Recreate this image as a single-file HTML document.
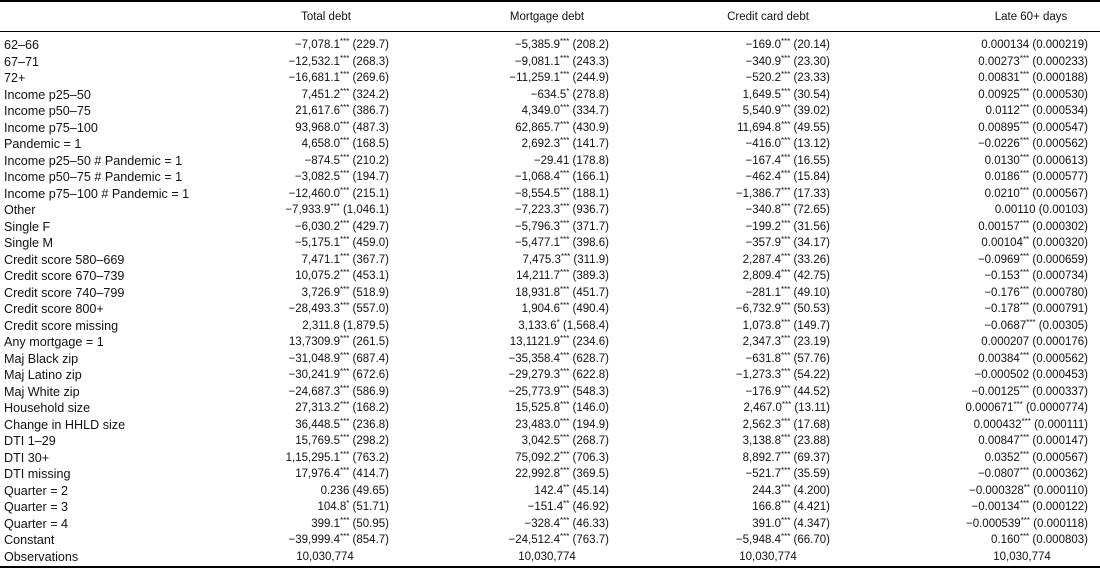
<!DOCTYPE html>
<html><head><meta charset="utf-8"><style>
body{margin:0;background:#fff;width:1100px;height:571px;position:relative;overflow:hidden;font-family:"Liberation Sans",sans-serif;font-size:11.5px;color:#111}
.r{position:absolute;height:16px;line-height:16px;white-space:nowrap}
.hr{position:absolute;left:0;width:1100px;background:#000}
.l{left:4px;font-size:12.6px}
.c1{right:711px}.c2{right:491px}.c3{right:270px}.c4{right:12px}
.m{transform:translateX(-50%)}
sup{font-size:8px;line-height:0;position:relative;top:-4px;vertical-align:baseline}
</style></head><body>
<div class="hr" style="top:0;height:2px"></div>
<div class="hr" style="top:31px;height:1px"></div>
<div class="hr" style="top:566px;height:2px"></div>
<div class="r m" style="top:9px;left:326px">Total debt</div>
<div class="r m" style="top:9px;left:547px">Mortgage debt</div>
<div class="r m" style="top:9px;left:768px">Credit card debt</div>
<div class="r m" style="top:9px;left:1031px">Late 60+ days</div>
<div id="rows"></div>
<script>
const d=[
["62–66","−7,078.1*** (229.7)","−5,385.9*** (208.2)","−169.0*** (20.14)","0.000134 (0.000219)"],
["67–71","−12,532.1*** (268.3)","−9,081.1*** (243.3)","−340.9*** (23.30)","0.00273*** (0.000233)"],
["72+","−16,681.1*** (269.6)","−11,259.1*** (244.9)","−520.2*** (23.33)","0.00831*** (0.000188)"],
["Income p25–50","7,451.2*** (324.2)","−634.5* (278.8)","1,649.5*** (30.54)","0.00925*** (0.000530)"],
["Income p50–75","21,617.6*** (386.7)","4,349.0*** (334.7)","5,540.9*** (39.02)","0.0112*** (0.000534)"],
["Income p75–100","93,968.0*** (487.3)","62,865.7*** (430.9)","11,694.8*** (49.55)","0.00895*** (0.000547)"],
["Pandemic = 1","4,658.0*** (168.5)","2,692.3*** (141.7)","−416.0*** (13.12)","−0.0226*** (0.000562)"],
["Income p25–50 # Pandemic = 1","−874.5*** (210.2)","−29.41 (178.8)","−167.4*** (16.55)","0.0130*** (0.000613)"],
["Income p50–75 # Pandemic = 1","−3,082.5*** (194.7)","−1,068.4*** (166.1)","−462.4*** (15.84)","0.0186*** (0.000577)"],
["Income p75–100 # Pandemic = 1","−12,460.0*** (215.1)","−8,554.5*** (188.1)","−1,386.7*** (17.33)","0.0210*** (0.000567)"],
["Other","−7,933.9*** (1,046.1)","−7,223.3*** (936.7)","−340.8*** (72.65)","0.00110 (0.00103)"],
["Single F","−6,030.2*** (429.7)","−5,796.3*** (371.7)","−199.2*** (31.56)","0.00157*** (0.000302)"],
["Single M","−5,175.1*** (459.0)","−5,477.1*** (398.6)","−357.9*** (34.17)","0.00104** (0.000320)"],
["Credit score 580–669","7,471.1*** (367.7)","7,475.3*** (311.9)","2,287.4*** (33.26)","−0.0969*** (0.000659)"],
["Credit score 670–739","10,075.2*** (453.1)","14,211.7*** (389.3)","2,809.4*** (42.75)","−0.153*** (0.000734)"],
["Credit score 740–799","3,726.9*** (518.9)","18,931.8*** (451.7)","−281.1*** (49.10)","−0.176*** (0.000780)"],
["Credit score 800+","−28,493.3*** (557.0)","1,904.6*** (490.4)","−6,732.9*** (50.53)","−0.178*** (0.000791)"],
["Credit score missing","2,311.8 (1,879.5)","3,133.6* (1,568.4)","1,073.8*** (149.7)","−0.0687*** (0.00305)"],
["Any mortgage = 1","13,7309.9*** (261.5)","13,1121.9*** (234.6)","2,347.3*** (23.19)","0.000207 (0.000176)"],
["Maj Black zip","−31,048.9*** (687.4)","−35,358.4*** (628.7)","−631.8*** (57.76)","0.00384*** (0.000562)"],
["Maj Latino zip","−30,241.9*** (672.6)","−29,279.3*** (622.8)","−1,273.3*** (54.22)","−0.000502 (0.000453)"],
["Maj White zip","−24,687.3*** (586.9)","−25,773.9*** (548.3)","−176.9*** (44.52)","−0.00125*** (0.000337)"],
["Household size","27,313.2*** (168.2)","15,525.8*** (146.0)","2,467.0*** (13.11)","0.000671*** (0.0000774)"],
["Change in HHLD size","36,448.5*** (236.8)","23,483.0*** (194.9)","2,562.3*** (17.68)","0.000432*** (0.000111)"],
["DTI 1–29","15,769.5*** (298.2)","3,042.5*** (268.7)","3,138.8*** (23.88)","0.00847*** (0.000147)"],
["DTI 30+","1,15,295.1*** (763.2)","75,092.2*** (706.3)","8,892.7*** (69.37)","0.0352*** (0.000567)"],
["DTI missing","17,976.4*** (414.7)","22,992.8*** (369.5)","−521.7*** (35.59)","−0.0807*** (0.000362)"],
["Quarter = 2","0.236 (49.65)","142.4** (45.14)","244.3*** (4.200)","−0.000328** (0.000110)"],
["Quarter = 3","104.8* (51.71)","−151.4** (46.92)","166.8*** (4.421)","−0.00134*** (0.000122)"],
["Quarter = 4","399.1*** (50.95)","−328.4*** (46.33)","391.0*** (4.347)","−0.000539*** (0.000118)"],
["Constant","−39,999.4*** (854.7)","−24,512.4*** (763.7)","−5,948.4*** (66.70)","0.160*** (0.000803)"]];
function fmt(s){return s.replace(/(\*+)/,'<sup>$1</sup>')}
const S=16.5, T0=37;
let h='';
d.forEach((r,i)=>{const t=T0+i*S;
h+=`<div class="r l" style="top:${t}px">${r[0]}</div>`;
['c1','c2','c3','c4'].forEach((c,j)=>{h+=`<div class="r ${c}" style="top:${t}px">${fmt(r[j+1])}</div>`});});
const t=T0+31*S;
h+=`<div class="r l" style="top:${t}px">Observations</div>`;
[325,547,768,1022].forEach(x=>{h+=`<div class="r m" style="top:${t}px;left:${x}px">10,030,774</div>`});
document.getElementById('rows').innerHTML=h;
</script>
</body></html>
